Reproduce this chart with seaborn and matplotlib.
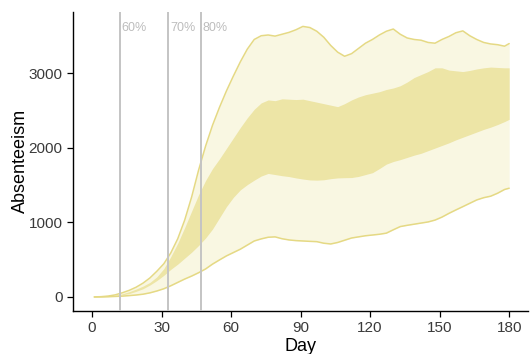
import matplotlib
matplotlib.use("Agg")
import matplotlib.pyplot as plt
import seaborn as sns
import pandas as pd

# Simulated absenteeism over time: 95% and 50% intervals
days = list(range(1, 180, 3)) + [180]

upper_95 = [0, 4, 12, 28, 55, 88, 130, 185, 255, 345, 445, 590, 780, 1030, 1340,
            1700, 2020, 2300, 2540, 2760, 2960, 3150, 3320, 3450, 3500, 3510, 3495,
            3520, 3545, 3580, 3625, 3610, 3560, 3480, 3370, 3280, 3225, 3260, 3330,
            3400, 3450, 3510, 3560, 3590, 3520, 3470, 3450, 3440, 3410, 3400, 3450,
            3490, 3540, 3565, 3500, 3450, 3410, 3390, 3380, 3360, 3395]
upper_50 = [0, 2, 8, 20, 42, 70, 105, 145, 195, 270, 380, 540, 720, 930, 1150,
            1370, 1560, 1720, 1850, 1990, 2130, 2270, 2400, 2515, 2600, 2640, 2630,
            2655, 2650, 2645, 2650, 2630, 2610, 2590, 2570, 2550, 2590, 2640, 2680,
            2710, 2730, 2750, 2780, 2800, 2830, 2880, 2940, 2980, 3020, 3070, 3070,
            3040, 3030, 3020, 3035, 3055, 3070, 3080, 3075, 3070, 3070]
lower_50 = [0, 1, 5, 14, 28, 45, 75, 110, 160, 220, 290, 370, 440, 520, 600,
            690, 790, 910, 1060, 1210, 1335, 1435, 1505, 1565, 1620, 1655, 1640,
            1625, 1613, 1595, 1580, 1568, 1565, 1570, 1585, 1595, 1598, 1600, 1615,
            1640, 1665, 1720, 1780, 1815, 1840, 1870, 1900, 1925, 1960, 1995, 2030,
            2065, 2105, 2140, 2175, 2210, 2245, 2275, 2310, 2350, 2380]
lower_95 = [0, 1, 3, 7, 11, 18, 26, 37, 55, 80, 110, 150, 195, 240, 280,
            325, 375, 440, 496, 550, 595, 640, 695, 750, 778, 800, 805,
            780, 764, 755, 750, 745, 741, 720, 710, 730, 760, 790, 805,
            820, 830, 840, 855, 900, 943, 960, 975, 990, 1005, 1030, 1070,
            1120, 1166, 1210, 1255, 1300, 1330, 1350, 1390, 1440, 1457]

# Vaccination coverage milestones
milestone_days = [12, 33, 47]
milestone_labels = ["60%", "70%", "80%"]

df = pd.DataFrame({"day": days, "upper_95": upper_95, "upper_50": upper_50,
                   "lower_50": lower_50, "lower_95": lower_95})

sns.set_theme(style="ticks")
plt.rcParams["font.family"] = ["Liberation Sans", "DejaVu Sans"]

fig = plt.figure(figsize=(5.3, 3.54), dpi=100)
ax = fig.add_axes([0.1377, 0.1215, 0.858, 0.845])

line_col = "#E5D984"
ax.fill_between(df["day"], df["lower_95"], df["upper_95"], color="#F9F7E2", lw=0, zorder=1)
ax.fill_between(df["day"], df["lower_50"], df["upper_50"], color="#EDE5A6", lw=0, zorder=2)
sns.lineplot(data=df, x="day", y="upper_95", ax=ax, color=line_col, lw=1.1, zorder=3)
sns.lineplot(data=df, x="day", y="lower_95", ax=ax, color=line_col, lw=1.1, zorder=3)

for d, lab in zip(milestone_days, milestone_labels):
    ax.axvline(d, color="#C4C4C4", lw=1.4, zorder=4)
    ax.text(d + 0.8, 3610, lab, color="#BDBDBD", fontsize=9, ha="left", va="center", zorder=5)

ax.set_xlim(-8.2, 188)
ax.set_ylim(-188, 3820)
ax.set_xticks([0, 30, 60, 90, 120, 150, 180])
ax.set_yticks([0, 1000, 2000, 3000])
ax.tick_params(axis="both", labelsize=11, labelcolor="#3A3A3A", length=4, width=0.9,
               direction="out", color="black")
for s in ["left", "bottom"]:
    ax.spines[s].set_color("black")
    ax.spines[s].set_linewidth(1.0)
sns.despine(ax=ax)
ax.set_xlabel("Day", fontsize=13, color="black", labelpad=2)
ax.set_ylabel("Absenteeism", fontsize=13, color="black", labelpad=0)

fig.savefig("out.png", dpi=100)
